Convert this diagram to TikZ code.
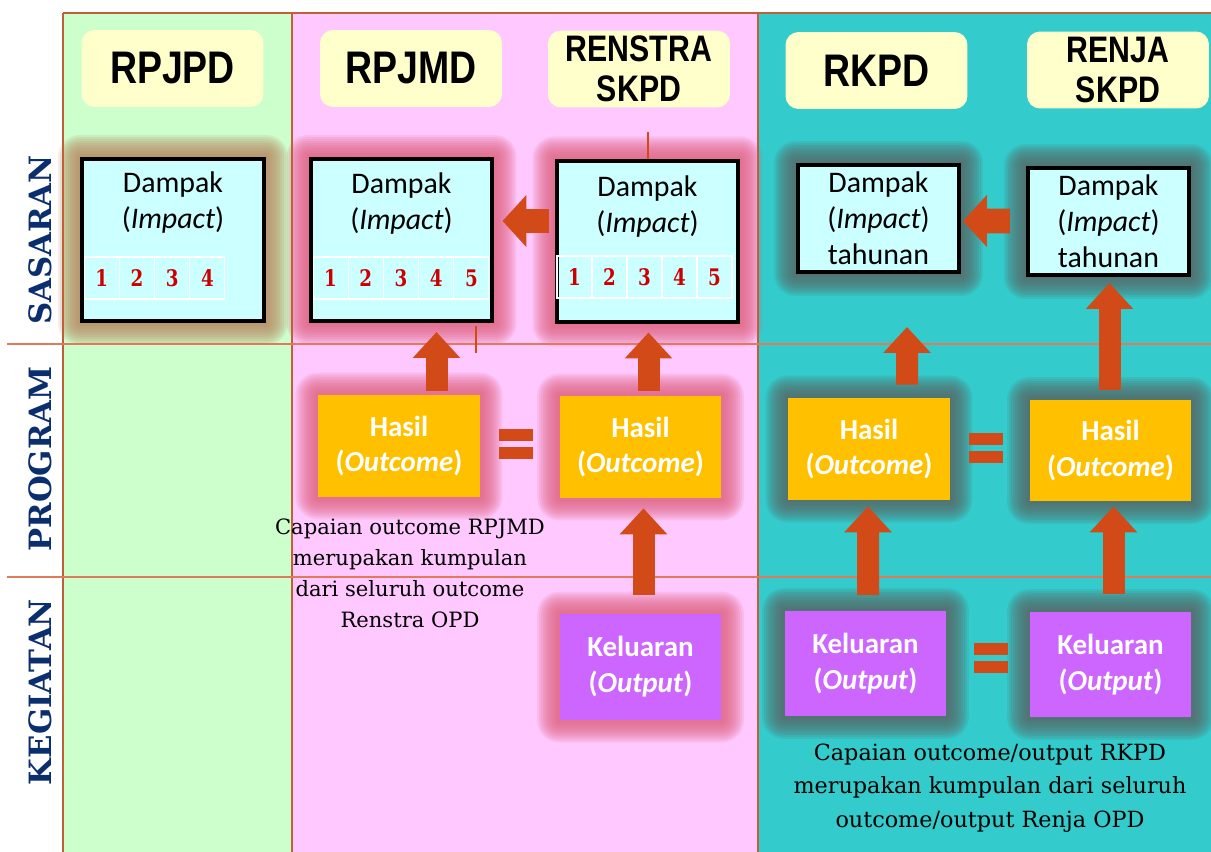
\documentclass[tikz,border=0pt]{standalone}
\usepackage{fontspec}
\setmainfont{Carlito}
\newfontfamily\hdfont{Liberation Sans}[FakeStretch=0.82]
\newfontfamily\slabfont{DejaVu Serif}
\newfontfamily\numfont{DejaVu Serif}[FakeStretch=0.8]
\usetikzlibrary{calc,arrows.meta}

\definecolor{colgreen}{HTML}{CCFFCC}
\definecolor{colpink}{HTML}{FFC9FF}
\definecolor{colteal}{HTML}{33CBCB}
\definecolor{hdyellow}{HTML}{FFFFCC}
\definecolor{impactcyan}{HTML}{CCFFFF}
\definecolor{hasilorange}{HTML}{FFC000}
\definecolor{outpurple}{HTML}{CC66FF}
\definecolor{arrowred}{HTML}{D24A17}
\definecolor{gridbrown}{HTML}{C0603A}
\definecolor{roworange}{HTML}{E07A5A}
\definecolor{rownavy}{HTML}{0B2F6E}
\definecolor{numred}{HTML}{CC0000}
\definecolor{glowbrown}{HTML}{B88560}
\definecolor{glowpink}{HTML}{E0607F}
\definecolor{glowgray}{HTML}{5A6664}

\pgfdeclarelayer{back}
\pgfdeclarelayer{glow}
\pgfsetlayers{back,glow,main}

% soft halo behind a box
\newcommand{\glowaround}[2]{%
  \foreach \g in {2,4,...,22}{%
    \fill[#2, opacity=0.14, rounded corners=0.02cm*\g] ($(#1.south west)+(-\g,\g)$) rectangle ($(#1.north east)+(\g,-\g)$);
  }}
% the "=" between equal boxes
\newcommand{\eqbars}[2]{%
  \fill[arrowred] ({#1-17},{#2-15}) rectangle ({#1+17},{#2-3});
  \fill[arrowred] ({#1-17},{#2+3}) rectangle ({#1+17},{#2+15});}

\begin{document}
\begin{tikzpicture}[x=0.02cm, y=-0.02cm,
  header/.style={fill=hdyellow, rounded corners=0.26cm, minimum width=3.64cm, minimum height=1.54cm, inner sep=0pt, align=center, font=\hdfont\bfseries\fontsize{26}{28}\selectfont},
  header2/.style={header, font=\hdfont\bfseries\fontsize{21}{22.7}\selectfont},
  impactbox/.style={draw=black, line width=0.08cm, fill=impactcyan, minimum width=3.64cm, minimum height=3.24cm, inner sep=0pt, align=center, font=\fontsize{17}{20.5}\selectfont},
  yearbox/.style={impactbox, minimum width=3.22cm, minimum height=2.14cm},
  impacttext/.style={align=center, inner sep=0pt, font=\fontsize{17}{20.5}\selectfont},
  numcell/.style={draw=white, line width=0.6pt, minimum width=0.7cm, minimum height=0.84cm, inner sep=0pt, text=numred, font=\numfont\bfseries\fontsize{13}{13}\selectfont},
  hasilbox/.style={fill=hasilorange, minimum width=3.24cm, minimum height=2.04cm, inner sep=0pt, align=center, text=white, font=\bfseries\fontsize{16.5}{20.4}\selectfont},
  outputbox/.style={hasilbox, fill=outpurple, minimum height=2.12cm},
  rowlabel/.style={rotate=90, inner sep=0pt, text=rownavy, font=\slabfont\bfseries\fontsize{17.5}{17.5}\selectfont},
  note/.style={align=center, inner sep=0pt, font=\slabfont\fontsize{12}{17.6}\selectfont},
  uparrow/.style={draw=arrowred, line width=0.44cm, -{Triangle[length=0.52cm, width=0.92cm]}},
  leftarrow/.style={draw=arrowred, line width=0.5cm, -{Triangle[length=0.48cm, width=1.02cm]}},
  gridline/.style={draw=gridbrown, line width=0.04cm},
  rowline/.style={draw=roworange, line width=0.04cm}
]
\useasboundingbox (0,0) rectangle (1211,852);
\begin{pgfonlayer}{back}
  \fill[white] (0,0) rectangle (1211,852);
  \fill[colgreen] (63,13) rectangle (292,852);
  \fill[colpink] (292,13) rectangle (758,852);
  \fill[colteal] (758,13) rectangle (1211,852);
\end{pgfonlayer}

% grid
\draw[gridline] (63,13) -- (1211,13);
\foreach \x in {63,292,758} \draw[gridline] (\x,13) -- (\x,852);
\foreach \y in {343.5,577} \draw[rowline] (7,\y) -- (1211,\y);

\node[rowlabel] (rsasaran) at (40,240) {SASARAN};
\node[rowlabel] (rprogram) at (40,459) {PROGRAM};
\node[rowlabel] (rkegiatan) at (40,692) {KEGIATAN};

% headers
\node[header] (hrpjpd) at (172.5,68.5) {RPJPD};
\node[header] (hrpjmd) at (411,68.5) {RPJMD};
\node[header2] (hrenstra) at (639,69) {RENSTRA\\SKPD};
\node[header] (hrkpd) at (876.5,70.5) {RKPD};
\node[header2] (hrenja) at (1118,70) {RENJA\\SKPD};

% sasaran
\node[impactbox] (d1) at (173,240) {};
\node[impactbox] (d2) at (401.5,240) {};
\node[impactbox] (d3) at (647.5,241.5) {};
\node[yearbox] (d4) at (878.5,218.5) {Dampak\\(\textit{Impact})\\tahunan};
\node[yearbox] (d5) at (1108.5,221.5) {Dampak\\(\textit{Impact})\\tahunan};
\node[impacttext] (d1t) at ($(d1.north)+(0,46)$) {Dampak\\(\textit{Impact})};
\node[impacttext] (d2t) at ($(d2.north)+(0,47)$) {Dampak\\(\textit{Impact})};
\node[impacttext] (d3t) at ($(d3.north)+(0,48)$) {Dampak\\(\textit{Impact})};
\foreach \n in {1,...,4} \node[numcell] (d1n\n) at ({84+35.25*\n-17.6},278) {\n};
\foreach \n in {1,...,5} \node[numcell] (d2n\n) at ({313+35.2*\n-17.6},278) {\n};
\foreach \n in {1,...,5} \node[numcell] (d3n\n) at ({557+35*\n-17.5},277) {\n};

% program
\node[hasilbox] (h1) at (399,446) {Hasil\\(\textit{Outcome})};
\node[hasilbox] (h2) at (640.5,447) {Hasil\\(\textit{Outcome})};
\node[hasilbox] (h3) at (869,449) {Hasil\\(\textit{Outcome})};
\node[hasilbox] (h4) at (1110.5,450.5) {Hasil\\(\textit{Outcome})};

% kegiatan
\node[outputbox] (k1) at (640.5,667) {Keluaran\\(\textit{Output})};
\node[outputbox] (k2) at (865.5,663.5) {Keluaran\\(\textit{Output})};
\node[outputbox] (k3) at (1110.5,664.5) {Keluaran\\(\textit{Output})};

\node[note] (n1) at (410,573) {Capaian outcome RPJMD\\merupakan kumpulan\\dari seluruh outcome\\Renstra OPD};
\node[note, font=\slabfont\fontsize{12.7}{19}\selectfont] (n2) at (990,788) {Capaian outcome/output RKPD\\merupakan kumpulan dari seluruh\\outcome/output Renja OPD};

\begin{pgfonlayer}{glow}
  \glowaround{d1}{glowbrown}
  \foreach \b in {d2,d3,h1,h2,k1} {\glowaround{\b}{glowpink}}
  \foreach \b in {d4,d5,h3,h4,k2,k3} {\glowaround{\b}{glowgray}}
\end{pgfonlayer}

% arrows
\draw[uparrow] ($(h1.north)+(37.5,-4)$) -- ($(d2.south)+(35,9)$);
\draw[uparrow] ($(h2.north)+(8,-5)$) -- ($(d3.south)+(1,8)$);
\draw[uparrow] ($(k1.north)+(3,-19)$) -- ($(h2.south)+(3,10)$);
\draw[uparrow] ($(h3.north)+(38,-13)$) -- ($(d4.south)+(28.5,53)$);
\draw[uparrow] ($(h4.north)+(-1,-9.5)$) -- ($(d5.south)+(1,6)$);
\draw[uparrow] ($(k2.north)+(2.5,-15)$) -- ($(h3.south)+(-1,6)$);
\draw[uparrow] ($(k3.north)+(3,-17)$) -- ($(h4.south)+(3,4.5)$);
\draw[leftarrow] ($(d3.west)+(-6,-20.5)$) -- ($(d2.east)+(8,-19)$);
\draw[leftarrow] ($(d5.west)+(-16,-0.5)$) -- ($(d4.east)+(2,2.5)$);
\draw[arrowred, line width=0.05cm] ($(d3.north)+(0.5,-27)$) -- ($(d3.north)+(0.5,0)$);
\draw[arrowred, line width=0.05cm] ($(d2.south)+(74.5,3)$) -- ($(d2.south)+(74.5,30)$);

\eqbars{516}{444}
\eqbars{986}{448}
\eqbars{990.5}{658}
\end{tikzpicture}
\end{document}
